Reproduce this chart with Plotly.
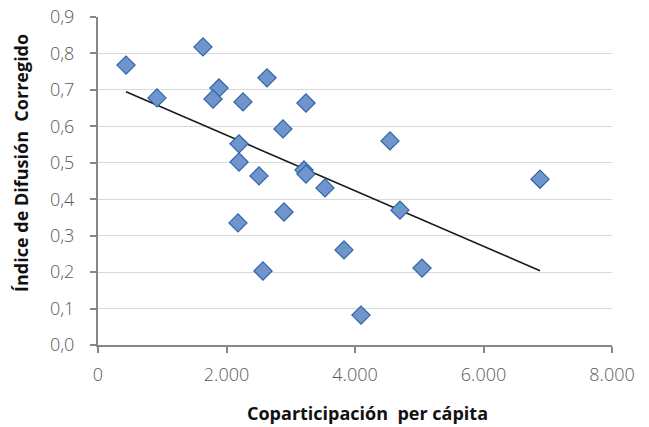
import numpy as np
import plotly.graph_objects as go

coparticipacion = [436, 918, 1634, 1883, 1790, 2257, 2630, 2195, 2195, 3237, 2879, 2506,
                   2179, 2568, 2895, 3206, 3237, 3533, 3829, 4545, 4700, 4093, 5043, 6880]
indice = [0.768, 0.678, 0.818, 0.705, 0.675, 0.667, 0.733, 0.552, 0.502, 0.664, 0.593, 0.464,
          0.335, 0.203, 0.365, 0.480, 0.469, 0.431, 0.261, 0.560, 0.370, 0.082, 0.211, 0.455]
x_title = "Coparticipación  per cápita"
y_title = "Índice de Difusión  Corregido"

x = np.array(coparticipacion, dtype=float)
y = np.array(indice, dtype=float)
m, b = np.polyfit(x, y, 1)
xl = np.array([x.min(), x.max()])
yl = m * xl + b

fig = go.Figure()
fig.add_trace(go.Scatter(x=xl, y=yl, mode="lines",
                         line=dict(color="#1a1a1a", width=1.6), hoverinfo="skip"))
fig.add_trace(go.Scatter(x=x, y=y, mode="markers",
                         marker=dict(symbol="diamond", size=14, color="#7094CC",
                                     line=dict(color="#2F64A8", width=1.2))))

font = "Open Sans, Noto Sans, sans-serif"
tickfont = dict(family=font, size=18, color="#595959", weight=300)
fig.update_layout(
    width=649, height=427,
    margin=dict(l=98, r=37, t=17, b=82, autoexpand=False),
    paper_bgcolor="white", plot_bgcolor="white",
    showlegend=False,
    separators=",.",
    font=dict(family=font, size=18, color="#595959"),
)
fig.update_xaxes(range=[0, 8000], tickvals=[0, 2000, 4000, 6000, 8000], tickformat=",d",
                 showgrid=False, zeroline=False, automargin=False,
                 showline=True, linecolor="#868686", linewidth=2,
                 ticks="outside", ticklen=6, tickcolor="#868686", tickwidth=2,
                 ticklabelstandoff=6, tickfont=tickfont)
fig.update_yaxes(range=[0, 0.9], dtick=0.1, tickformat=".1f",
                 showgrid=True, gridcolor="#D9D9D9", gridwidth=1.2, zeroline=False,
                 automargin=False,
                 showline=True, linecolor="#868686", linewidth=2,
                 ticks="outside", ticklen=6, tickcolor="#868686", tickwidth=2,
                 ticklabelstandoff=12, tickfont=tickfont)
fig.add_annotation(text="<b>" + x_title + "</b>", xref="paper", yref="paper",
                   x=0.525, y=-0.207, showarrow=False, xanchor="center", yanchor="middle",
                   font=dict(family=font, size=18, color="#111111"))
fig.add_annotation(text="<b>" + y_title + "</b>", xref="paper", yref="paper",
                   x=-0.1498, y=0.555, showarrow=False, xanchor="center", yanchor="middle",
                   textangle=-90, font=dict(family=font, size=18, color="#111111"))

fig.write_html("out.html")
